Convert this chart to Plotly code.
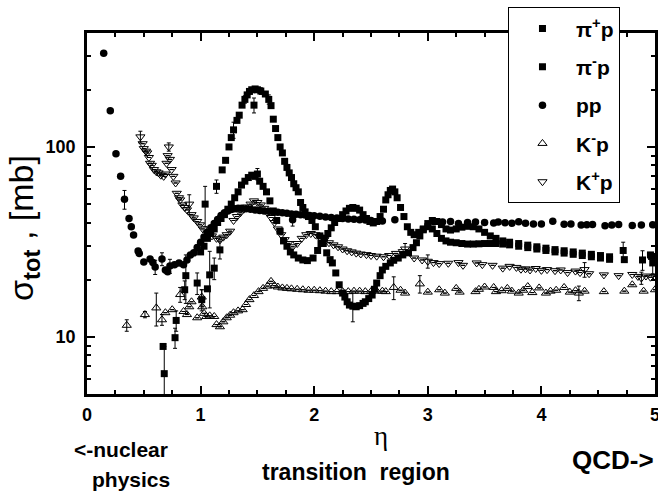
import plotly.graph_objects as go

# ---------------- data ----------------
# pi+ p  (filled squares)
pip_eta = [0.67, 0.68, 0.775, 0.785, 0.86, 0.87, 0.97, 1.01, 1.04, 1.06, 1.08, 1.12, 1.14, 1.17,
           1.19, 1.22, 1.25, 1.27, 1.29, 1.32, 1.34, 1.365, 1.39, 1.41, 1.43, 1.45, 1.47, 1.48, 1.50,
           1.53, 1.57, 1.60, 1.62, 1.64, 1.66, 1.68, 1.70, 1.72, 1.74, 1.76, 1.78, 1.80, 1.82, 1.84,
           1.86, 1.88, 1.90, 1.92, 1.95, 1.98, 2.01, 2.05, 2.08, 2.11, 2.14, 2.16, 2.19, 2.22, 2.25,
           2.27, 2.29, 2.31, 2.34, 2.37, 2.40, 2.43, 2.45, 2.48, 2.51, 2.53, 2.55, 2.58, 2.60, 2.63,
           2.67, 2.70, 2.74, 2.78, 2.83, 2.87, 2.90, 2.93, 2.96, 3.00, 3.04, 3.08, 3.12, 3.16, 3.20,
           3.25, 3.30, 3.35, 3.40, 3.45, 3.50, 3.55, 3.60, 3.66, 3.72, 3.80, 3.88, 3.96, 4.04, 4.12,
           4.20, 4.28, 4.36, 4.44, 4.52, 4.60, 4.73, 4.89, 4.97]
pip_sigma = [8.9, 6.4, 9.9, 12.2, 17.7, 21.0, 19.2, 15.7, 50, 17.9, 21.2, 23, 62, 28.7,
             75.7, 85, 100, 112, 123, 138, 147, 166, 178, 188, 196, 200, 166, 202, 200,
             197, 190, 178, 165, 140, 125, 112, 100, 93, 84, 78, 73, 69, 64, 61,
             58, 51, 48, 45.5, 43, 41, 38, 34, 31, 27.7, 25.5, 24.5, 21.7, 18.8, 17,
             16.2, 15.3, 14.7, 14.5, 14.4, 14.6, 15.0, 15.3, 15.9, 16.6, 17.8, 19.2, 21, 22.5, 23.5,
             24.5, 25.3, 26, 27, 27.7, 29.5, 31.3, 34, 36.6, 38, 37, 35, 33, 32, 31.5,
             31.3, 31.0, 30.8, 30.8, 30.9, 31.0, 31.0, 31.0, 30.8, 30.5, 30.0, 29.5, 29.0, 28.5, 28.0,
             27.6, 27.2, 26.8, 26.4, 26.0, 25.6, 25.5, 25.4, 26.5]
pip_err = [0, 2.5, 1.2, 1.5, 2, 6, 2.5, 2, 12, 0, 7, 3, 5, 3,
           0, 0, 0, 0, 12, 0, 0, 0, 8, 0, 0, 5, 15, 0, 0,
           8, 0, 10, 0, 0, 0, 0, 0, 0, 0, 0, 0, 0, 0, 0,
           0, 0, 0, 0, 0, 0, 0, 0, 0, 0, 0, 0, 0, 0, 0,
           0, 0, 0, 2.5, 0, 0, 0, 0, 0, 0, 0, 0, 0, 0, 0,
           0, 0, 0, 0, 0, 0, 0, 0, 0, 0, 0, 0, 0, 0, 0,
           0, 0, 0, 0, 0, 0, 0, 0, 0, 0, 0, 0, 0, 0, 0,
           0, 0, 0, 0, 0, 0, 0, 3, 0]

# pi- p  (filled squares)
pim_eta = [1.00, 1.03, 1.06, 1.09, 1.12, 1.15, 1.18, 1.21, 1.24, 1.27, 1.30, 1.33, 1.36, 1.39,
           1.42, 1.45, 1.48, 1.50, 1.52, 1.55, 1.58, 1.61, 1.64, 1.67, 1.70, 1.73, 1.76, 1.79,
           1.82, 1.86, 1.90, 1.94, 1.99, 2.03, 2.06, 2.09, 2.12, 2.15, 2.18, 2.22, 2.25, 2.28,
           2.31, 2.34, 2.37, 2.40, 2.43, 2.46, 2.49, 2.52, 2.55, 2.58, 2.61, 2.63, 2.65, 2.67,
           2.69, 2.71, 2.73, 2.76, 2.79, 2.82, 2.85, 2.88, 2.92, 2.96, 3.00, 3.04, 3.08, 3.12,
           3.16, 3.20, 3.25, 3.30, 3.35, 3.40, 3.45, 3.50, 3.55, 3.60, 3.66, 3.72, 3.80, 3.88,
           3.96, 4.04, 4.12, 4.20, 4.28, 4.36, 4.44, 4.52, 4.60, 4.72, 4.96, 4.98]
pim_sigma = [28, 30, 33, 35, 37, 40, 42, 44, 47, 50, 54, 58, 63, 66,
             69, 71, 70, 72, 66, 62, 58, 52, 46, 41, 36, 32, 30, 28,
             27, 26, 25.4, 25.2, 26, 28.5, 31, 33, 35, 37.5, 40, 42, 44, 46,
             47.5, 48, 47.5, 46.5, 44, 42, 40.5, 39.8, 40.5, 43, 47, 52.6, 56, 59,
             60, 58, 54, 48, 43, 38, 35.5, 34.5, 35.5, 37, 39.5, 41, 40.5, 39,
             37, 36.5, 37, 37.8, 38.2, 38, 37, 35.5, 34, 33, 32, 31.5, 31, 30.4,
             29.8, 29.3, 28.8, 28.4, 28, 27.6, 27.2, 26.8, 26.4, 28.5, 27, 24.5]
pim_err = [0] * 17 + [5] + [0] * 75 + [3, 0, 3]

# p p  (filled circles)
pp_eta = [0.147, 0.205, 0.255, 0.296, 0.33, 0.37, 0.39, 0.41, 0.45, 0.46, 0.50, 0.555, 0.58, 0.60,
          0.66, 0.69, 0.71, 0.73, 0.77, 0.81, 0.85, 0.88, 0.91, 0.94, 0.97, 1.00, 1.03, 1.06,
          1.09, 1.12, 1.15, 1.18, 1.21, 1.24, 1.27, 1.30, 1.33, 1.36, 1.40, 1.44, 1.48, 1.52,
          1.56, 1.60, 1.64, 1.68, 1.72, 1.76, 1.80, 1.81, 1.84, 1.88, 1.92, 1.96, 2.00, 2.05,
          2.10, 2.15, 2.20, 2.25, 2.30, 2.35, 2.40, 2.45, 2.50, 2.60, 2.71, 3.05, 3.13, 3.20,
          3.27, 3.35, 3.42, 3.50, 3.58, 3.62, 3.68, 3.74, 3.80, 3.86, 3.93, 4.00, 4.10, 4.20,
          4.26, 4.35, 4.40, 4.45, 4.56, 4.62, 4.68, 4.80, 4.88, 4.98]
pp_sigma = [311, 155, 92, 70, 53, 42, 38, 34.4, 28.3, 27.5, 24.8, 25.7, 24.6, 23.3,
            25.7, 22.5, 22.0, 23.6, 24.0, 24.5, 24.0, 25.4, 27.0, 27.7, 29.5, 31.5, 33.6, 35.5,
            37.5, 39.5, 41.5, 43.5, 45, 46, 46.8, 47.2, 47.5, 47.5, 47.3, 47, 46.6, 46.3,
            46, 45.8, 45.6, 45.3, 45, 44.7, 44.4, 41.3, 44.2, 44, 43.8, 43.6, 43.4, 43.1,
            42.8, 42.5, 42.2, 42, 41.8, 41.6, 41.4, 41.2, 41, 40.8, 41.3, 40.5, 40.3, 40.5,
            39.5, 40, 40.2, 40, 39.8, 40.2, 39.9, 39.7, 40.4, 39.6, 39.3, 39.3, 40.6, 39.2,
            39.3, 38.8, 38.9, 39.0, 38.5, 38.8, 39, 38.6, 38.8, 38.9]
pp_err = [0, 0, 0, 0, 6, 0, 0, 0, 0, 0, 0, 0, 0, 2,
          2, 0, 0, 2, 0, 0, 0, 0, 0, 0, 0, 0, 0, 0,
          0, 0, 0, 0, 0, 0, 0, 0, 0, 0, 0, 0, 0, 0,
          0, 0, 0, 0, 0, 0, 0, 3, 0, 0, 0, 0, 0, 0,
          0, 0, 0, 0, 0, 0, 0, 0, 0, 0, 0, 0, 0, 0,
          0, 0, 0, 0, 0, 0, 0, 0, 0, 0, 0, 0, 0, 0,
          0, 0, 0, 0, 0, 0, 0, 0, 0, 0]

# K- p  (open up-triangles)
kmp_eta = [0.35, 0.51, 0.61, 0.66, 0.69, 0.75, 0.82, 0.85, 0.88, 0.90, 0.92, 0.97, 1.01, 1.015,
           1.03, 1.05, 1.08, 1.12, 1.14, 1.17, 1.20, 1.23, 1.26, 1.29, 1.33, 1.37, 1.40, 1.43,
           1.47, 1.51, 1.55, 1.59, 1.62, 1.65, 1.68, 1.72, 1.76, 1.80, 1.85, 1.90, 1.95, 2.00,
           2.05, 2.10, 2.15, 2.20, 2.25, 2.30, 2.35, 2.40, 2.45, 2.50, 2.55, 2.60, 2.63, 2.70,
           2.76, 2.80, 2.93, 3.00, 3.10, 3.15, 3.25, 3.28, 3.42, 3.45, 3.50, 3.58, 3.60, 3.65,
           3.70, 3.74, 3.80, 3.84, 3.88, 3.92, 3.98, 4.04, 4.08, 4.13, 4.20, 4.25, 4.30, 4.33,
           4.38, 4.55, 4.73, 4.80, 4.90, 5.0]
kmp_sigma = [11.5, 13.1, 14.2, 12.3, 13.4, 13.9, 16.7, 13.6, 13.1, 14.4, 15.3, 12.6, 16.2, 14.4,
             13.3, 12.8, 12.9, 12.8, 11.6, 11.3, 12.0, 12.6, 13.0, 13.4, 13.7, 13.9, 14.8, 15.7,
             16.5, 17.3, 18.0, 18.5, 19.6, 18.6, 18.3, 18.1, 18.0, 17.9, 17.8, 17.7, 17.6, 17.6,
             17.5, 17.4, 17.3, 17.3, 17.3, 17.3, 17.4, 17.4, 17.3, 17.3, 17.4, 17.4, 17.3, 18.2,
             17.6, 17.0, 19.0, 17.2, 17.7, 17.0, 18.0, 17.2, 17.3, 17.8, 18.3, 18.2, 17.3, 17.5,
             18.0, 17.4, 17.0, 17.6, 18.4, 17.1, 18.1, 17.0, 17.4, 17.6, 18.2, 17.2, 17.5, 17.0,
             17.4, 17.3, 17.4, 18.8, 17.4, 17.7]
kmp_err = [0.8, 0.5, 2.8, 0.8, 0, 0, 1.5, 0, 0, 0, 0, 0, 1.5, 0,
           0, 0, 0, 0, 0, 0, 0, 0, 0, 0, 0, 0, 0, 0,
           0, 0, 0, 0, 0, 0, 0, 0, 0, 0, 0, 0, 0, 0,
           0, 0, 0, 0, 0, 0, 0, 0, 0, 0, 0, 0, 0, 2.5,
           0, 0, 2, 0, 0, 0, 0, 0, 0, 0, 0, 0, 0, 0,
           0, 0, 0, 0, 0, 0, 0, 0, 0, 0, 0, 0, 0, 1.5,
           0, 0, 0, 0, 0, 0]

# K+ p  (open down-triangles)
kpp_eta = [0.47, 0.49, 0.50, 0.52, 0.53, 0.545, 0.555, 0.57, 0.59, 0.61, 0.63, 0.65, 0.675, 0.69,
           0.70, 0.71, 0.72, 0.73, 0.745, 0.76, 0.78, 0.79, 0.81, 0.82, 0.84, 0.86, 0.88, 0.90,
           0.92, 0.94, 0.97, 0.995, 1.02, 1.06, 1.10, 1.14, 1.17, 1.20, 1.23, 1.26, 1.29, 1.32,
           1.35, 1.38, 1.41, 1.44, 1.47, 1.50, 1.53, 1.56, 1.59, 1.62, 1.65, 1.68, 1.71, 1.74,
           1.77, 1.81, 1.85, 1.89, 1.93, 1.97, 2.01, 2.05, 2.09, 2.13, 2.17, 2.21, 2.25, 2.29,
           2.33, 2.37, 2.41, 2.46, 2.50, 2.55, 2.61, 2.66, 2.72, 2.78, 2.80, 2.88, 2.95, 3.00,
           3.05, 3.10, 3.18, 3.27, 3.31, 3.43, 3.48, 3.57, 3.66, 3.72, 3.78, 3.82, 3.86, 3.90,
           3.95, 4.00, 4.05, 4.12, 4.17, 4.23, 4.30, 4.34, 4.38, 4.42, 4.55, 4.68, 4.80, 4.85,
           4.88, 4.92, 4.96, 5.0]
kpp_sigma = [113, 104, 98, 95, 93, 88, 82, 80, 76, 74, 73, 71, 70, 72,
             82, 90, 100, 86, 76, 70, 64.6, 57, 54, 52.6, 49.5, 48, 46.6, 50,
             44, 42.3, 40.5, 38.9, 37, 35.3, 34, 33, 32.4, 33.5, 34.5, 36, 41, 43,
             45, 47, 48.3, 50, 52, 51, 49.5, 47.5, 45, 42.5, 40, 37, 34.5, 32.5,
             31, 29.8, 31, 33, 34.5, 35, 34.5, 33.5, 32.5, 31.3, 30.5, 29.8, 29, 28.4,
             28, 27.6, 27.3, 27.1, 26.8, 26.6, 26.4, 26.8, 27.5, 28.1, 29, 26, 25.4, 25,
             24.6, 24.3, 24.4, 24.6, 23.8, 24.5, 24, 23.8, 23.0, 23.5, 23.2, 22.7, 22.8, 22.5,
             22.9, 22.4, 22.6, 22.3, 22.5, 21.8, 22.2, 21.8, 22.6, 21.5, 21.2, 21.0, 21.3, 20.8,
             20.4, 20.9, 20.6, 20.8]
kpp_err = [8, 0, 0, 0, 0, 0, 0, 0, 0, 0, 0, 0, 0, 0,
           0, 0, 5, 0, 0, 0, 0, 0, 0, 0, 0, 0, 0, 6,
           0, 0, 0, 0, 0, 0, 0, 0, 0, 0, 0, 0, 0, 0,
           0, 0, 0, 0, 0, 0, 0, 0, 0, 0, 0, 0, 0, 0,
           0, 0, 0, 0, 0, 0, 0, 0, 0, 0, 0, 0, 0, 0,
           0, 0, 0, 0, 0, 0, 0, 0, 0, 0, 2, 0, 0, 2,
           0, 0, 0, 0, 0, 0, 0, 0, 0, 0, 0, 0, 0, 0,
           0, 0, 0, 0, 0, 0, 0, 0, 2, 0, 0, 0, 0, 0,
           1.5, 0, 0, 0]

series_names = ["<b>π<sup>+</sup>p</b>", "<b>π<sup>-</sup>p</b>", "<b>pp</b>",
                "<b>K<sup>-</sup>p</b>", "<b>K<sup>+</sup>p</b>"]

x_ticks = [0, 1, 2, 3, 4, 5]
y_ticks = [10, 100]
y_minor = [5, 6, 7, 8, 9, 20, 30, 40, 50, 60, 70, 80, 90, 200, 300]

# ---------------- figure ----------------
FONT = "Liberation Sans, Arial, sans-serif"
fig = go.Figure()

def err(arr):
    return dict(type="data", array=arr, visible=True, color="black", thickness=1, width=2)

styles = [
    (pip_eta, pip_sigma, pip_err, dict(symbol="square", size=7, color="black")),
    (pim_eta, pim_sigma, pim_err, dict(symbol="square", size=7, color="black")),
    (pp_eta, pp_sigma, pp_err, dict(symbol="circle", size=7.5, color="black")),
    (kmp_eta, kmp_sigma, kmp_err, dict(symbol="triangle-up-open", size=8, color="black",
                                       line=dict(width=1, color="black"))),
    (kpp_eta, kpp_sigma, kpp_err, dict(symbol="triangle-down-open", size=8, color="black",
                                       line=dict(width=1, color="black"))),
]
for i, (xs, ys, es, mk) in enumerate(styles):
    fig.add_trace(go.Scatter(x=xs, y=ys, mode="markers", name=series_names[i],
                             marker=mk, error_y=err(es), legendgroup=str(i)))

fig.update_layout(
    width=658, height=492,
    margin=dict(l=87, r=3, t=33, b=98, autoexpand=False),
    paper_bgcolor="white", plot_bgcolor="white",
    font=dict(family=FONT, color="black"),
    showlegend=True,
    legend=dict(xref="container", yref="container", x=0.772, y=0.985,
                xanchor="left", yanchor="top",
                bordercolor="black", borderwidth=1, bgcolor="white",
                font=dict(family=FONT, size=21, color="black"),
                tracegroupgap=8, itemwidth=57),
)
fig.update_xaxes(range=[0, 5], tickvals=x_ticks, ticktext=[str(v) for v in x_ticks],
                 ticks="inside", ticklen=8, tickwidth=2, tickcolor="black",
                 showline=True, linewidth=2.5, linecolor="black", mirror="ticks",
                 showgrid=False, zeroline=False, automargin=False, ticklabelstandoff=3,
                 ticklabeloverflow="allow",
                 tickfont=dict(family=FONT, size=18, weight="bold"),
                 minor=dict(dtick=0.25, ticks="inside", ticklen=4, tickwidth=1.5, tickcolor="black"))
fig.update_yaxes(type="log", range=[0.699, 2.6], tickvals=y_ticks,
                 ticktext=[str(v) for v in y_ticks],
                 ticks="inside", ticklen=8, tickwidth=2, tickcolor="black",
                 showline=True, linewidth=2.5, linecolor="black", mirror="ticks",
                 showgrid=False, zeroline=False, automargin=False, ticklabelstandoff=5,
                 tickfont=dict(family=FONT, size=18, weight="bold"),
                 minor=dict(tickvals=y_minor, ticks="inside", ticklen=4, tickwidth=1.5,
                            tickcolor="black"))

ann = [
    dict(text="η", x=0.5176, y=-0.116, font=dict(family="Liberation Serif", size=27), xanchor="center"),
    dict(text="<b><-nuclear</b>", x=0.0599, y=-0.155, font=dict(size=21), xanchor="center"),
    dict(text="<b>physics</b>", x=0.0775, y=-0.2355, font=dict(size=21), xanchor="center"),
    dict(text="<b>transition\u00a0 region</b>", x=0.4736, y=-0.216, font=dict(size=23), xanchor="center"),
    dict(text="<b>QCD-></b>", x=1.0018, y=-0.183, font=dict(size=26), xanchor="right"),
]
for a in ann:
    fig.add_annotation(xref="paper", yref="paper", showarrow=False, yanchor="middle",
                       **a)
fig.add_annotation(xref="paper", yref="paper", x=-0.111, y=0.46, showarrow=False,
                   text="σ<sub><b>tot</b></sub> , [mb]", textangle=-90,
                   font=dict(family=FONT, size=34), xanchor="center", yanchor="middle")

fig.write_html("out.html", config={"displayModeBar": False},
               post_script="document.body.style.margin='0px';")
